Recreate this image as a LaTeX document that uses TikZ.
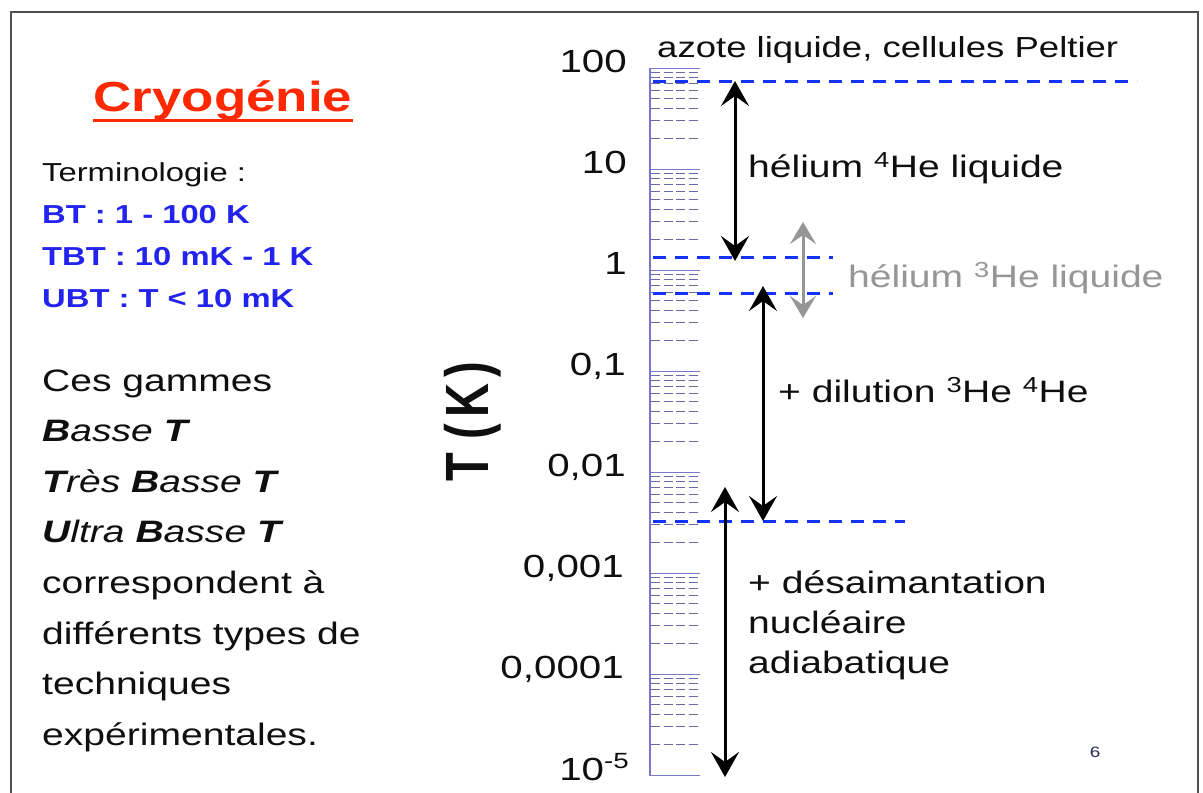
\documentclass[tikz,border=0pt]{standalone}
\usepackage{fontspec}
\setmainfont{Liberation Sans}[FakeStretch=1.26]
\newfontfamily\plainsans{Liberation Sans}
\usetikzlibrary{arrows.meta}
\definecolor{titlered}{RGB}{255,40,0}
\definecolor{termblue}{RGB}{35,35,240}
\definecolor{dashblue}{RGB}{20,50,255}
\definecolor{arrgray}{RGB}{150,150,150}
\definecolor{txt}{RGB}{15,15,15}
\definecolor{barline}{RGB}{120,120,200}
\definecolor{minortick}{RGB}{105,105,165}
\definecolor{framegray}{RGB}{80,80,80}
\definecolor{pagenum}{RGB}{40,40,90}
\begin{document}
\begin{tikzpicture}[x=1pt,y=-1pt,
  fs/.style={font={\fontsize{#1}{#1}\selectfont}},
  lbl/.style={anchor=base west, inner sep=0pt, text=txt},
  scl/.style={anchor=base east, inner sep=0pt, text=txt, fs=32},
  term/.style={lbl, text=termblue, font={\bfseries\fontsize{26}{26}\selectfont}},
  minor/.style={draw=minortick, line width=0.7pt, dash pattern=on 9pt off 3.5pt},
  major/.style={draw=barline, line width=1pt},
  lvl/.style={draw=dashblue, line width=3pt, dash pattern=on 13pt off 9pt},
  bigarrow/.style={draw=black, line width=3pt,
    {Stealth[length=25pt,width=28pt,inset=10pt]}-{Stealth[length=25pt,width=28pt,inset=10pt]}},
  grayarrow/.style={draw=arrgray, line width=3pt,
    {Stealth[length=22pt,width=26pt,inset=9pt]}-{Stealth[length=22pt,width=26pt,inset=9pt]}}
]
\useasboundingbox (0,0) rectangle (1203,793);
\fill[white] (0,0) rectangle (1203,793);
% frame
\draw[framegray, line width=2pt] (11,793) -- (11,12) -- (1198,12) -- (1198,793);

% title
\node[anchor=base, inner sep=0pt, text=titlered, font={\bfseries\fontsize{42}{42}\selectfont}] (title) at (223,111) {Cryogénie};
\draw[titlered, line width=3pt] ([yshift=-9pt]title.base west) -- ([yshift=-9pt]title.base east);

% terminology
\node[lbl, fs=26] (termi) at (42,181) {Terminologie :};
\node[term] (bt) at (42,223) {BT : 1 - 100 K};
\node[term] (tbt) at (42,265) {TBT : 10 mK - 1 K};
\node[term] (ubt) at (42,307) {UBT : T < 10 mK};

% body text
\node[lbl, fs=31] (l1) at (42,391) {Ces gammes};
\node[lbl, fs=31] (l2) at (42,441.6) {{\bfseries\itshape B}{\itshape asse} {\bfseries\itshape T}};
\node[lbl, fs=31] (l3) at (42,492.2) {{\bfseries\itshape T}{\itshape rès} {\bfseries\itshape B}{\itshape asse} {\bfseries\itshape T}};
\node[lbl, fs=31] (l4) at (42,542.8) {{\bfseries\itshape U}{\itshape ltra} {\bfseries\itshape B}{\itshape asse} {\bfseries\itshape T}};
\node[lbl, fs=31] (l5) at (42,593.4) {correspondent à};
\node[lbl, fs=31] (l6) at (42,644) {différents types de};
\node[lbl, fs=31] (l7) at (42,694.6) {techniques};
\node[lbl, fs=31] (l8) at (42,745.2) {expérimentales.};

% axis title
\node[rotate=90, inner sep=0pt, text=txt] (tk) at (473,422) {\scalebox{1}[1.3]{\fontsize{47}{47}\plainsans\bfseries T\hspace{14pt}(\hspace{6pt}K\hspace{6pt})}};

% scale bar
\foreach \d in {-5,...,1} {
  \foreach \k in {2,...,9} {
    \pgfmathsetmacro\yy{270-101*(\d+log10(\k))}
    \draw[minor] (651,\yy) -- (700,\yy);
  }
}
\foreach \d in {-5,...,2} {
  \pgfmathsetmacro\yy{270-101*\d}
  \draw[major] (650,\yy) -- (700,\yy);
}
\draw[barline, line width=1.5pt] (650,68) -- (650,776);

% scale labels
\node[scl] (s100) at (627,72) {100};
\node[scl] (s10) at (627,173) {10};
\node[scl] (s1) at (627,274) {1};
\node[scl] (s01) at (626,375) {0,1};
\node[scl] (s001) at (626,476) {0,01};
\node[scl] (s0001) at (624,577) {0,001};
\node[scl] (s00001) at (624,678) {0,0001};
\node[scl] (s5) at (629,780) {10\raisebox{12pt}{\fontsize{22}{22}\selectfont -5}};

% level lines
\coordinate (n2a) at (653,81);   \coordinate (n2b) at (1137,81);
\coordinate (h4a) at (653,257);  \coordinate (h4b) at (833,257);
\coordinate (h3a) at (653,293);  \coordinate (h3b) at (833,293);
\coordinate (dla) at (653,521);  \coordinate (dlb) at (905,521);
\draw[lvl] (n2a) -- (n2b);
\draw[lvl] (h4a) -- (h4b);
\draw[lvl] (h3a) -- (h3b);
\draw[lvl] (dla) -- (dlb);

% arrows
\coordinate (a1t) at (735,81);  \coordinate (a1b) at (735,261);
\coordinate (a2t) at (803,222); \coordinate (a2b) at (803,318);
\coordinate (a3t) at (763,286); \coordinate (a3b) at (763,521);
\coordinate (a4t) at (725,487); \coordinate (a4b) at (725,777);
\draw[bigarrow] (a1t) -- (a1b);
\draw[grayarrow] (a2t) -- (a2b);
\draw[bigarrow] (a3t) -- (a3b);
\draw[bigarrow] (a4t) -- (a4b);

% right labels
\node[lbl, fs=29] (azote) at (657,57) {azote liquide, cellules Peltier};
\node[lbl, fs=31] (he4) at (748,177) {hélium \textsuperscript{4}He liquide};
\node[lbl, fs=31, text=arrgray] (he3) at (848,287) {hélium \textsuperscript{3}He liquide};
\node[lbl, fs=31] (dil) at (778,402) {+ dilution \textsuperscript{3}He \textsuperscript{4}He};
\node[lbl, fs=31] (des1) at (748,593) {+ désaimantation};
\node[lbl, fs=31] (des2) at (748,633) {nucléaire};
\node[lbl, fs=31] (des3) at (748,673) {adiabatique};

% page number
\node[inner sep=0pt, text=pagenum, fs=15] (page) at (1095,752) {6};
\end{tikzpicture}
\end{document}
